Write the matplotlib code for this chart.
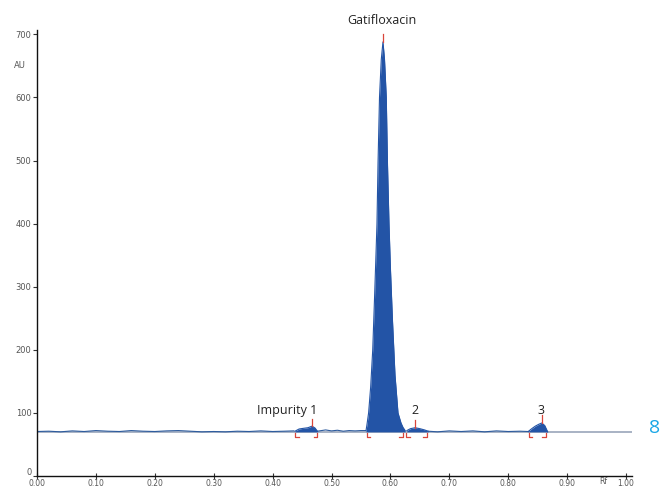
import matplotlib
matplotlib.use("Agg")
import matplotlib.pyplot as plt
import matplotlib.transforms as mtransforms
import numpy as np

# ---- data ----
baseline_rf = [0.00, 0.02, 0.04, 0.06, 0.08, 0.10, 0.12, 0.14, 0.16, 0.18, 0.20,
               0.22, 0.24, 0.26, 0.28, 0.30, 0.32, 0.34, 0.36, 0.38, 0.40, 0.42, 0.436]
baseline_au = [70.5, 71.0, 70.0, 71.5, 70.5, 72.0, 71.0, 70.5, 72.0, 71.0, 70.5,
               71.5, 72.0, 71.0, 70.0, 70.5, 70.0, 71.0, 70.5, 71.5, 70.5, 71.0, 71.5]

imp1_rf = [0.438, 0.445, 0.452, 0.460, 0.467, 0.472, 0.476]
imp1_au = [71.0, 74.5, 75.5, 76.5, 79.0, 76.0, 71.0]

gap1_rf = [0.476, 0.49, 0.50, 0.51, 0.52, 0.53, 0.54, 0.55, 0.558]
gap1_au = [71.0, 73.0, 71.5, 72.5, 71.0, 72.0, 71.5, 72.0, 72.0]

main_rf = [0.5586, 0.5600, 0.5630, 0.5665, 0.5700, 0.5730, 0.5756, 0.5772, 0.5790, 0.5815,
           0.5845, 0.5874, 0.5900, 0.5930, 0.5950, 0.5976, 0.6000, 0.6035, 0.6078, 0.6129,
           0.6180, 0.6214, 0.6250]
main_au = [72, 80, 100, 141, 200, 280, 353, 400, 496, 600,
           660, 688, 660, 600, 496, 400, 330, 247, 160, 100,
           84, 77, 72]

imp2_rf = [0.628, 0.634, 0.642, 0.650, 0.658, 0.664]
imp2_au = [72.0, 75.0, 76.5, 75.0, 73.0, 71.0]

gap2_rf = [0.664, 0.68, 0.70, 0.72, 0.74, 0.76, 0.78, 0.80, 0.82, 0.834]
gap2_au = [71.0, 70.0, 71.5, 70.5, 71.5, 70.0, 71.5, 70.5, 71.0, 70.5]

imp3_rf = [0.834, 0.840, 0.846, 0.852, 0.857, 0.862, 0.867]
imp3_au = [70.5, 75.0, 79.0, 82.0, 84.0, 80.0, 70.0]

ref_line_rf = [0.0, 1.01]
ref_line_au = [69.0, 69.0]

peak_labels = ["Gatifloxacin", "Impurity 1", "2", "3"]
peak_label_pos = [(0.586, 712), (0.425, 93), (0.642, 93), (0.855, 93)]

# integration marks: (start, end, apex)
marks = [(0.438, 0.476, 0.467), (0.560, 0.621, 0.5874), (0.627, 0.662, 0.641), (0.835, 0.864, 0.857)]
mark_apex_au = [79, 688, 76.5, 84]

xticks = [0.0, 0.1, 0.2, 0.3, 0.4, 0.5, 0.6, 0.7, 0.8, 0.9, 1.0]
yticks = [0, 100, 200, 300, 400, 500, 600, 700]

# ---- figure ----
fig = plt.figure(figsize=(6.6, 4.87), dpi=100)
ax = fig.add_axes([37/660, 1-476/487, (632-37)/660, (476-30)/487])
ax.set_xlim(0, (632-37)/589)
ax.set_ylim(0, (476-30)/0.631)

blue = "#2354a6"
trace = "#2e5c9e"
red = "#d9453a"

ax.plot(ref_line_rf, ref_line_au, color="#9aa6ba", lw=1.2, zorder=1)

for rf, au in [(baseline_rf, baseline_au), (gap1_rf, gap1_au), (gap2_rf, gap2_au)]:
    ax.plot(rf, au, color=trace, lw=0.8, zorder=2)

for rf, au in [(imp1_rf, imp1_au), (main_rf, main_au), (imp2_rf, imp2_au), (imp3_rf, imp3_au)]:
    ax.fill_between(rf, 70, au, color=blue, lw=0, zorder=3)
    ax.plot(rf, au, color=blue, lw=0.8, zorder=3)

# red integration marks
for (s, e, a), h in zip(marks, mark_apex_au):
    ax.plot([s, s, s + 0.006], [68, 62, 62], color=red, lw=0.9, zorder=4)
    ax.plot([e, e, e - 0.006], [68, 62, 62], color=red, lw=0.9, zorder=4)
    ax.plot([a, a], [h, h + 12], color=red, lw=0.9, zorder=4)

for txt, (x, y) in zip(peak_labels, peak_label_pos):
    ax.text(x, y, txt, ha="center", va="bottom", fontsize=9, family="Open Sans",
            color="#222222", clip_on=False)

fig.text(655/660, 1-428/487, "8", ha="center", va="center", fontsize=14,
         color="#1aa7e6", family="Open Sans")

ax.set_xticks(xticks)
ax.set_xticklabels([f"{v:.2f}" for v in xticks])
ax.set_yticks(yticks)
ax.set_yticklabels([str(v) for v in yticks])
ax.tick_params(axis="y", labelsize=6, colors="#333333", labelcolor="#555555",
               length=3, width=0.8, pad=1)
ax.tick_params(axis="x", labelsize=5.5, colors="#333333", labelcolor="#555555",
               direction="inout", length=4, width=0.8, pad=0)
for s in ["top", "right"]:
    ax.spines[s].set_visible(False)
for s in ["left", "bottom"]:
    ax.spines[s].set_linewidth(1.0)
    ax.spines[s].set_color("#111111")

# nudge the y "0" label up a little so it does not touch "0.00"
zero_lab = ax.get_yticklabels()[0]
zero_lab.set_transform(zero_lab.get_transform() +
                       mtransforms.ScaledTranslation(0, 3/72, fig.dpi_scale_trans))

fig.text(20/660, 1-66/487, "AU", ha="center", va="center", fontsize=6, color="#555555")
fig.text(603/660, 1-482/487, "Rf", ha="center", va="center", fontsize=5.5, color="#555555")

fig.savefig("out.png", dpi=100)
